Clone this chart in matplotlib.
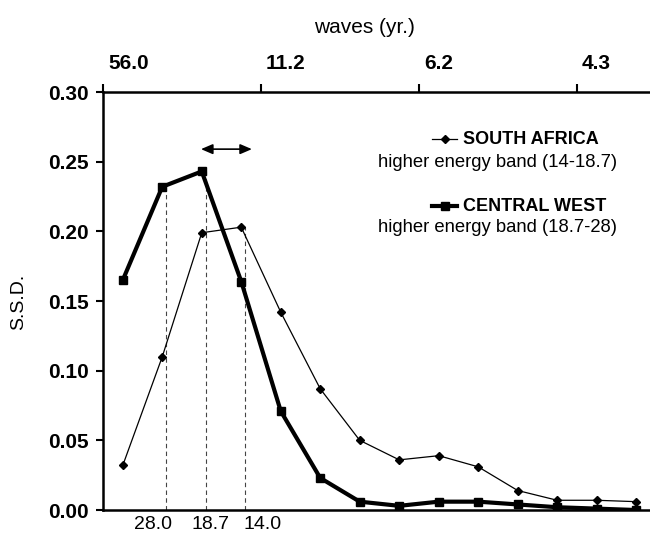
import matplotlib
matplotlib.use('Agg')
import matplotlib.pyplot as plt
import matplotlib.transforms as mtransforms
import numpy as np

# ── data ────────────────────────────────────────────────────────────────
harmonic = np.arange(1, 15)
south_africa = [0.032, 0.110, 0.199, 0.203, 0.142, 0.087, 0.050,
                0.036, 0.039, 0.031, 0.014, 0.007, 0.007, 0.006]
central_west = [0.165, 0.232, 0.243, 0.164, 0.071, 0.023, 0.006,
                0.003, 0.006, 0.006, 0.004, 0.002, 0.001, 0.000]

top_ticks = [0.5, 4.5, 8.5, 12.5]
top_labels = ['56.0', '11.2', '6.2', '4.3']
y_ticks = [0.00, 0.05, 0.10, 0.15, 0.20, 0.25, 0.30]

# dashed guide lines: (harmonic, height) and their labels
guide_x = [2, 3, 4]
guide_y = [0.232, 0.243, 0.203]
guide_labels = ['28.0', '18.7', '14.0']
guide_label_x = [1.76, 3.23, 4.53]

FONT = ['Liberation Sans', 'DejaVu Sans']
plt.rcParams['font.family'] = FONT

fig = plt.figure(figsize=(6.5, 5.34), dpi=100)
ax = fig.add_axes([0.1585, 0.0449, 0.8415, 0.7828])

# guides
for gx, gy in zip(guide_x, guide_y):
    ax.plot([gx + 0.1, gx + 0.1], [0, gy], ls=(0, (4, 3)), color='#444444',
            lw=0.8, zorder=1)

ax.plot(harmonic, south_africa, color='black', lw=0.9, marker='D', ms=4,
        zorder=3)
ax.plot(harmonic, central_west, color='black', lw=3, marker='s', ms=5.5,
        zorder=4)

ax.annotate('', xy=(2.98, 0.259), xytext=(4.27, 0.259),
            arrowprops=dict(arrowstyle='<|-|>,head_width=0.3,head_length=0.7',
                            color='black', lw=1.2, shrinkA=0, shrinkB=0))

ax.set_xlim(0.5, 14.35)
ax.set_ylim(0, 0.30)

# axes styling
for side in ['left', 'top', 'bottom']:
    ax.spines[side].set_linewidth(1.8)
ax.spines['right'].set_visible(False)

ax.set_yticks(y_ticks)
ax.set_yticklabels([f'{v:.2f}' for v in y_ticks], fontsize=15,
                   fontweight='bold')
ax.tick_params(axis='y', direction='out', length=5, width=1.5, pad=5)

ax.xaxis.set_ticks_position('top')
ax.set_xticks(top_ticks)
ax.set_xticklabels(top_labels, fontsize=15, fontweight='bold')
ax.tick_params(axis='x', direction='out', length=6, width=1.5, pad=8)
shift = mtransforms.ScaledTranslation(5 / 100, 0, fig.dpi_scale_trans)
for lab in ax.get_xticklabels():
    lab.set_horizontalalignment('left')
    lab.set_transform(lab.get_transform() + shift)

# bottom guide labels
blend = mtransforms.blended_transform_factory(ax.transData, ax.transAxes)
for lx, txt in zip(guide_label_x, guide_labels):
    ax.text(lx, -0.034, txt, transform=blend, ha='center', va='center',
            fontsize=14)

# axis titles
fig.text(0.56, 0.949, 'waves (yr.)', ha='center', va='center', fontsize=15)
fig.text(0.029, 0.435, 'S.S.D.', ha='center', va='center', fontsize=14,
         rotation=90)

# legend-like annotations
def legend_entry(y_px, lw, marker, ms, title, sub, sub_y_px):
    y = 1 - y_px / 534
    fig.add_artist(plt.Line2D([432 / 650, 444.5 / 650, 457 / 650], [y, y, y],
                              transform=fig.transFigure, color='black', lw=lw,
                              marker=marker, ms=ms, markevery=[1]))
    fig.text(463 / 650, y, title, ha='left', va='center', fontsize=13,
             fontweight='bold')
    fig.text(378 / 650, 1 - sub_y_px / 534, sub, ha='left', va='center',
             fontsize=13.3)

legend_entry(139, 0.9, 'D', 4, 'SOUTH AFRICA',
             'higher energy band (14-18.7)', 162)
legend_entry(206, 3, 's', 5.5, 'CENTRAL WEST',
             'higher energy band (18.7-28)', 228)

fig.savefig('out.png', dpi=100, facecolor='white')
